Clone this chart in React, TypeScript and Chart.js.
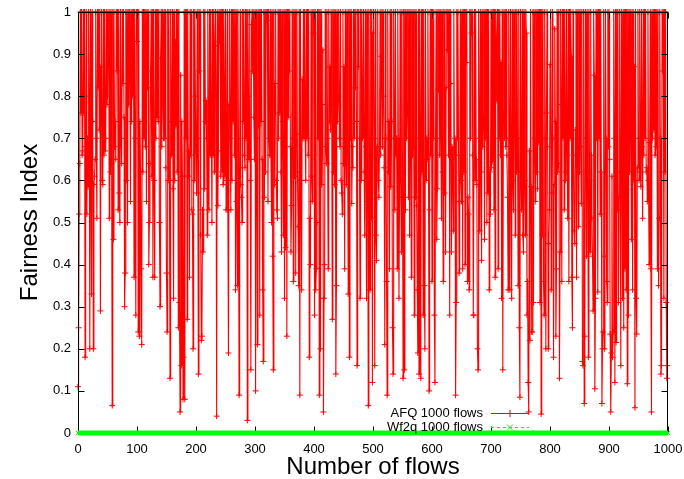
import React, { useEffect, useRef } from "react";
import { Chart, registerables } from "chart.js";

Chart.register(...registerables);

const FONT = '"Liberation Sans", Arial, Helvetica, sans-serif';

// Axis ticks
const xTickValues = [0, 100, 200, 300, 400, 500, 600, 700, 800, 900, 1000];
const yTickValues = [0, 0.1, 0.2, 0.3, 0.4, 0.5, 0.6, 0.7, 0.8, 0.9, 1];

// Series labels
const afqLabel = "AFQ 1000 flows";
const wf2qLabel = "Wf2q 1000 flows";

// AFQ fairness index per flow number (0..999)
const afqFairness = [
  0.11, .25, .52, .64, 1, .76, 1, .66, .67, 1, .76, 1, .18, .68, 1, .52, .7, .585, 1, .8,
  .2, 1, .62, .33, 1, .74, .2, .59, .61, .65, 1, .7, .51, 1, .82, 1, .72, 1, .29, .87,
  1, .6, .59, 1, .66, 1, .67, .7, 1, .78, .8, 1, .98, .51, 1, .62, 1, .64, .065, 1,
  .46, 1, .68, .74, .65, 1, .86, 1, .53, 1, .57, .5, 1, .7, .64, 1, .83, 1, .75, .3,
  .38, 1, .6, 1, .5, 1, .78, 1, .87, .55, 1, .74, 1, .8, 1, .37, 1, .7, .28, 1,
  .93, 1, .24, 1, .23, .74, .62, .39, .21, 1, .62, 1, .7, 1, .68, 1, .55, 1, .82, 1,
  .4, .5, .64, .86, 1, .61, 1, .37, 1, .6, .37, 1, .7, 1, .75, 1, .74, 1, .5, .3,
  .89, 1, .68, 1, .8, .7, 1, .7, 1, .63, .38, .24, 1, .6, 1, .6, .13, 1, .66, .74,
  1, .58, .32, 1, .6, .93, .73, 1, .62, 1, .25, 1, .31, .05, .85, .16, .74, .61, .08, .18,
  1, .08, 1, .7, 1, .27, 1, .61, .67, .37, 1, .66, 1, .53, .52, .2, 1, .6, 1, .8,
  .67, .57, 1, .7, .14, 1, .86, 1, .47, .22, .23, .53, .43, 1, .58, 1, .74, .79, .7, .47,
  1, .7, .53, 1, .66, 1, .74, .5, 1, .66, 1, .62, .92, 1, .8, .04, 1, .54, .67, 1,
  .93, 1, .61, 1, .62, 1, .59, 1, .79, .61, 1, .53, .6, 1, .53, .19, .78, 1, .7, .53,
  1, .6, 1, .74, 1, .66, 1, .34, 1, .55, .35, 1, .7, .09, .63, 1, .59, .56, .5, 1,
  .74, 1, .66, .63, 1, .7, 1, .03, 1, .8, .65, 1, .6, .15, .97, 1, .86, 1, .75, .65,
  1, .1, 1, .7, .21, 1, .73, 1, .28, 1, .74, 1, .65, .34, .17, 1, .56, 1, .62, 1,
  .98, 1, .55, 1, .7, .66, 1, .66, .5, 1, .42, .15, 1, .59, .83, 1, .6, .53, .51, 1,
  .7, 1, .76, 1, .62, .43, 1, .74, .47, 1, .32, 1, .44, 1, .23, 1, .75, 1, .86, 1,
  .68, .43, .54, 1, .7, .36, 1, .61, 1, .38, .71, 1, .62, .49, .35, 1, .09, 1, .6, .34,
  .84, .7, 1, .7, 1, .71, .6, 1, .7, 1, .66, 1, .18, .51, .4, 1, .61, .55, 1, .95,
  1, .28, 1, .34, .39, .5, 1, .7, 1, .09, 1, .2, 1, .59, .78, .91, .05, .32, .4, 1,
  .68, .64, 1, .7, .39, 1, .74, .87, .72, 1, .78, .27, 1, .62, 1, .59, 1, .14, .35, 1,
  .74, .8, 1, .7, .68, 1, .6, .57, .52, 1, .64, .87, .39, 1, .66, .59, 1, .7, .33, 1,
  .18, 1, .7, 1, .545, .68, .63, 1, .7, 1, .82, 1, .74, .16, 1, .87, 1, .7, .32, 1,
  .6, 1, .7, .72, 1, .62, .47, 1, .68, .32, 1, .66, .065, 1, .7, .34, 1, .51, 1, .12,
  .95, 1, .7, .16, 1, .47, .41, .68, 1, .6, .56, .68, 1, .66, .895, 1, .68, 1, .8, .63,
  .21, 1, .7, .36, .09, 1, .62, .74, .39, 1, .585, 1, .74, .25, .14, 1, .7, .53, 1, .66,
  .7, .39, 1, .7, .32, .56, 1, .6, .43, 1, .62, .13, 1, .15, 1, .53, 1, .7, .78, 1,
  .56, 1, .47, 1, .7, .37, 1, .66, 1, .68, .28, 1, .56, 1, .54, .34, .19, 1, .14, 1,
  .7, .13, 1, .62, 1, .28, 1, .35, .2, 1, .6, .7, .65, 1, .7, .1, .53, 1, .66, 1,
  .36, 1, .7, 1, .28, .12, .7, 1, .46, .58, 1, .815, 1, .66, 1, .7, .51, 1, .62, .36,
  1, .57, 1, .43, .82, 1, .91, 1, .66, 1, .28, 1, .83, .43, .68, .65, .48, 1, .66, .7,
  .09, .31, 1, .7, 1, .66, .38, .55, 1, .6, .55, 1, .39, 1, .62, 1, .4, 1, .88, 1,
  .36, .56, .52, .34, 1, .7, 1, .95, 1, .66, .28, .28, 1, .6, 1, .65, .59, .2, .15, 1,
  .7, .48, 1, .62, .41, 1, .68, .75, 1, .46, 1, .7, 1, .5, 1, .57, 1, .34, .62, .52,
  1, .63, 1, .645, 1, .53, 1, .37, 1, .93, .79, 1, .39, 1, .7, 1, .66, .88, .32, 1,
  .15, .76, 1, .7, 1, .68, 1, .66, .56, .34, 1, .7, .34, 1, .62, .32, 1, .6, .53, 1,
  .79, .47, 1, .62, 1, .7, .35, 1, .25, .085, 1, .62, .53, 1, .47, .43, 1, .6, .47, 1,
  .95, .28, .36, .12, .05, .67, .22, 1, .585, .24, .24, 1, .31, 1, .7, .55, 1, .62, 1, .58,
  1, .69, 1, .31, 1, .045, 1, .47, 1, .36, .28, 1, .7, .2, .76, 1, .68, .2, .45, .53,
  .875, 1, .34, .57, 1, .7, .18, .59, .96, .74, .23, .39, 1, .62, .64, 1, .13, .43, 1, .78,
  .36, 1, .7, 1, .53, 1, .6, .62, 1, .66, .51, 1, .36, 1, .7, 1, .895, .37, .25, 1,
  .66, .48, .45, .72, 1, .37, 1, .7, .49, 1, .62, 1, .68, .545, 1, .17, .16, 1, .07, .23,
  1, .7, .42, 1, .62, .18, 1, .6, .43, 1, .66, .51, .42, .29, 1, .85, .105, .32, 1, .7,
  1, .335, 1, .7, 1, .52, 1, .62, .07, .2, .24, 1, .2, .42, 1, .7, .36, .31, 1, .68,
  1, .65, .235, .05, .19, .61, .18, .24, 1, .7, .12, 1, .215, 1, .53, 1, .31, .56, 1, .62,
  .16, 1, .7, .32, 1, .25, 1, .39, 1, .34, 1, .117, 1, .28, 1, .62, 1, .72, .46, 1,
  .34, 1, .6, .87, .06, 1, .32, .235, .63, 1, .7, .6, 1, .62, .585, 1, .68, .51, 1, .66,
  1, .7, 1, .62, .63, .55, 1, .6, .4, .69, 1, .39, .05, 1, .7, 1, .72, 1, .66, 1,
  .68, 1, .39, 1, .35, .51, 1, .7, .14, .16, 1, .86, 1, .32, 1, .62, 1, .31, .13, .16,
];

// Wf2q fairness index: reads as 0 across all flows
const wf2qFlows = [0, 100, 200, 300, 400, 500, 600, 700, 800, 900, 1000];
const wf2qFairness = [0, 0, 0, 0, 0, 0, 0, 0, 0, 0, 0];

const RED = "#ff0000";
const GREEN = "#00ff00";

function drawCross(ctx: CanvasRenderingContext2D, x: number, y: number, r: number, rot: boolean) {
  ctx.beginPath();
  if (rot) {
    ctx.moveTo(x - r, y - r); ctx.lineTo(x + r, y + r);
    ctx.moveTo(x - r, y + r); ctx.lineTo(x + r, y - r);
  } else {
    ctx.moveTo(x - r, y); ctx.lineTo(x + r, y);
    ctx.moveTo(x, y - r); ctx.lineTo(x, y + r);
  }
  ctx.stroke();
}

export default function App() {
  const ref = useRef<HTMLCanvasElement>(null);

  useEffect(() => {
    document.body.style.margin = "0";
    const canvas = ref.current;
    if (!canvas) return;

    const framePlugin = {
      id: "gnuFrame",
      afterDatasetDraw(chart: any, args: any) {
        if (args.index !== 0) return;
        const { ctx, chartArea: a, scales } = chart;
        ctx.save();
        ctx.strokeStyle = "#000";
        ctx.lineWidth = 1;
        const L = Math.round(a.left) + 0.5;
        const R = Math.round(a.right) - 0.5;
        const T = Math.round(a.top) + 0.5;
        const B = Math.round(a.bottom) - 0.5;
        ctx.beginPath();
        ctx.rect(L, T, R - L, B - T);
        ctx.stroke();
        ctx.beginPath();
        const tl = 6;
        yTickValues.forEach((v) => {
          const y = Math.round(scales.y.getPixelForValue(v)) + 0.5;
          ctx.moveTo(L, y); ctx.lineTo(L + tl, y);
          ctx.moveTo(R, y); ctx.lineTo(R - tl, y);
        });
        xTickValues.forEach((v) => {
          const x = Math.round(scales.x.getPixelForValue(v)) + 0.5;
          ctx.moveTo(x, B); ctx.lineTo(x, B - tl);
          ctx.moveTo(x, T); ctx.lineTo(x, T + tl);
        });
        ctx.stroke();
        ctx.restore();
      },
      afterDraw(chart: any) {
        const { ctx, chartArea: a } = chart;
        ctx.save();
        ctx.font = `13px ${FONT}`;
        ctx.fillStyle = "#000";
        ctx.textAlign = "right";
        ctx.textBaseline = "middle";
        const tx = a.right - 185;
        const y1 = a.bottom - 20;
        const y2 = a.bottom - 6;
        ctx.fillText(afqLabel, tx, y1);
        ctx.fillText(wf2qLabel, tx, y2);
        const s0 = tx + 8, s1 = tx + 46, sm = tx + 27;
        ctx.lineWidth = 1;
        ctx.strokeStyle = RED;
        ctx.beginPath(); ctx.moveTo(s0, y1 + 0.5); ctx.lineTo(s1, y1 + 0.5); ctx.stroke();
        drawCross(ctx, sm, y1 + 0.5, 3.5, false);
        ctx.strokeStyle = GREEN;
        ctx.setLineDash([3, 3]);
        ctx.beginPath(); ctx.moveTo(s0, y2 + 0.5); ctx.lineTo(s1, y2 + 0.5); ctx.stroke();
        ctx.setLineDash([]);
        drawCross(ctx, sm, y2 + 0.5, 3, true);
        ctx.restore();
      },
    };

    const chart = new Chart(canvas, {
      type: "line",
      data: {
        datasets: [
          {
            label: afqLabel,
            data: afqFairness.map((v, i) => ({ x: i, y: v })),
            borderColor: RED,
            borderWidth: 1.1,
            pointStyle: "cross",
            pointRadius: 3,
            pointBorderWidth: 1,
            pointBorderColor: RED,
            pointBackgroundColor: RED,
            order: 1,
            clip: false as any,
            tension: 0,
          },
          {
            label: wf2qLabel,
            data: wf2qFlows.map((f, i) => ({ x: f, y: wf2qFairness[i] })),
            borderColor: GREEN,
            borderWidth: 5,
            pointStyle: "crossRot",
            pointRadius: 3,
            pointBorderWidth: 1,
            pointBorderColor: GREEN,
            order: 0,
            clip: false as any,
            tension: 0,
          },
        ],
      },
      options: {
        responsive: false,
        animation: false,
        events: [],
        layout: { padding: { top: 12, right: 16, bottom: 0, left: 0 } },
        plugins: {
          legend: { display: false },
          tooltip: { enabled: false },
        },
        scales: {
          x: {
            type: "linear",
            min: 0,
            max: 1000,
            afterFit: (s: any) => { s.height = 46; s.paddingLeft = 0; s.paddingRight = 0; },
            afterBuildTicks: (s: any) => { s.ticks = xTickValues.map((v) => ({ value: v })); },
            grid: { display: false, drawTicks: false },
            border: { display: false },
            ticks: {
              padding: 9,
              maxRotation: 0,
              autoSkip: false,
              color: "#000",
              font: { family: FONT, size: 13 },
              callback: (v: any) => String(v),
            },
            title: {
              display: true,
              text: "Number of flows",
              color: "#000",
              font: { family: FONT, size: 24, lineHeight: 1 },
              padding: { top: 0, bottom: 0 },
            },
          },
          y: {
            type: "linear",
            min: 0,
            max: 1,
            afterFit: (s: any) => { s.width = 78; s.paddingTop = 0; s.paddingBottom = 0; },
            afterBuildTicks: (s: any) => { s.ticks = yTickValues.map((v) => ({ value: v })); },
            grid: { display: false, drawTicks: false },
            border: { display: false },
            ticks: {
              padding: 7,
              autoSkip: false,
              color: "#000",
              font: { family: FONT, size: 13 },
              callback: (v: any) => String(Math.round(Number(v) * 10) / 10),
            },
            title: {
              display: true,
              text: "Fairness Index",
              color: "#000",
              font: { family: FONT, size: 24 },
              padding: { top: 16, bottom: 0 },
            },
          },
        },
      },
      plugins: [framePlugin],
    });

    return () => chart.destroy();
  }, []);

  return (
    <div style={{ width: 684, height: 479, overflow: "hidden", background: "#fff" }}>
      <canvas ref={ref} width={684} height={479} style={{ display: "block" }} />
    </div>
  );
}
